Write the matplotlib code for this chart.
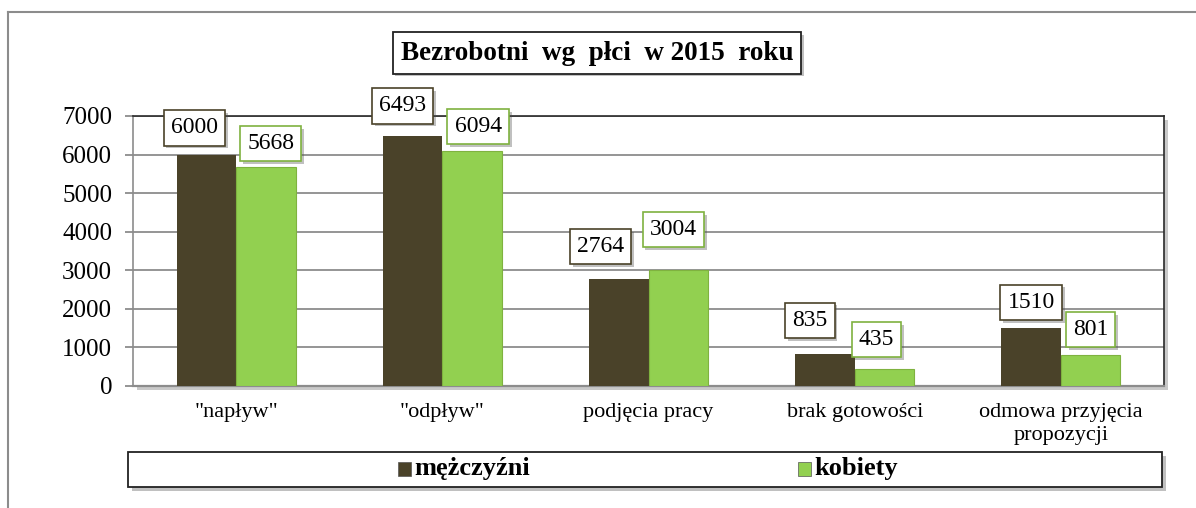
import numpy as np
import matplotlib
matplotlib.use("Agg")
import matplotlib.pyplot as plt
import matplotlib.patheffects as pe
from matplotlib.patches import Rectangle
from matplotlib.lines import Line2D

plt.rcParams['font.family'] = ['Liberation Serif', 'DejaVu Serif']

## Data

categories = ['"napływ"', '"odpływ"', 'podjęcia pracy', 'brak gotowości',
              'odmowa przyjęcia\npropozycji']
men = [6000, 6493, 2764, 835, 1510]
women = [5668, 6094, 3004, 435, 801]
series_names = ['mężczyźni', 'kobiety']
title = 'Bezrobotni  wg  płci  w 2015  roku'

# label box nudges (pixels): horizontal shift, gap above bar
men_nudge = [(-12, 9), (-10, 12), (-18, 15), (-15, 16), (0, 8)]
women_nudge = [(5, 6), (6, 7), (-5, 23), (-8, 12), (0, 8)]

dark = '#4a4229'
green = '#92d050'
shadow = [pe.SimplePatchShadow(offset=(2, -2), alpha=0.35), pe.Normal()]

fig = plt.figure(figsize=(11.96, 5.08), dpi=100)

# outer frame
fig.add_artist(Line2D([8/1196, 8/1196], [0, 1 - 12/508], color='#8c8c8c', lw=1.5, transform=fig.transFigure))
fig.add_artist(Line2D([8/1196, 1], [1 - 12/508, 1 - 12/508], color='#8c8c8c', lw=1.5, transform=fig.transFigure))

ax = fig.add_axes([133/1196, 1 - 386/508, (1164 - 133)/1196, (386 - 116)/508])

x = np.arange(len(categories))
w = 0.289
b1 = ax.bar(x - w/2, men, w, color=dark, zorder=3)
b2 = ax.bar(x + w/2, women, w, color=green, edgecolor='#7fb23f', lw=0.8, zorder=3)

ax.set_ylim(0, 7000)
ax.set_xlim(-0.5, len(categories) - 0.5)
ax.set_yticks(np.arange(0, 7001, 1000))
ax.yaxis.grid(True, color='#8c8c8c', lw=1.3, zorder=0)
ax.set_xticks(x)
ax.set_xticklabels(categories, fontsize=16, linespacing=1.3)
ax.tick_params(axis='y', labelsize=18, length=6, width=1.3, color='#8c8c8c', pad=9)
ax.tick_params(axis='x', length=0, pad=12)
for s in ax.spines.values():
    s.set_color('#2a2a2a')
    s.set_linewidth(1.2)
ax.spines['left'].set_color('#8c8c8c')
ax.spines['bottom'].set_color('#8c8c8c')
ax.spines['bottom'].set_linewidth(1.6)
ax.patch.set_path_effects([pe.SimplePatchShadow(offset=(3, -3), alpha=0.3), pe.Normal()])

pad_px = 0.3 * 17 * 100 / 72

def label(bars, vals, nudges, ec):
    for r, v, (dx, gap) in zip(bars, vals, nudges):
        t = ax.annotate(str(v), (r.get_x() + r.get_width()/2, v), xytext=(dx, gap + pad_px),
                        textcoords='offset pixels', ha='center', va='bottom',
                        fontsize=17, zorder=5, annotation_clip=False,
                        bbox=dict(boxstyle='square,pad=0.3', fc='white', ec=ec, lw=1.2))
        t.get_bbox_patch().set_path_effects(shadow)

label(b1, men, men_nudge, '#4a4229')
label(b2, women, women_nudge, '#7fb23f')

# title box
tt = fig.text(597/1196, 1 - 53/508, title, ha='center', va='center', fontsize=19.5,
              fontweight='bold',
              bbox=dict(boxstyle='square,pad=0.3', fc='white', ec='#222222', lw=1.3))
tt.get_bbox_patch().set_path_effects(shadow)

# legend box
lr = Rectangle((128/1196, 1 - 487/508), (1162 - 128)/1196, 35/508, transform=fig.transFigure,
               fc='white', ec='#222222', lw=1.3)
lr.set_path_effects([pe.SimplePatchShadow(offset=(3, -3), alpha=0.35), pe.Normal()])
fig.add_artist(lr)
leg_y = 1 - 469/508
for xpos, name, c in [(398, series_names[0], dark), (798, series_names[1], green)]:
    fig.add_artist(Rectangle((xpos/1196, leg_y - 7/508), 13/1196, 14/508,
                             transform=fig.transFigure, fc=c, ec='#555555', lw=0.5))
    fig.text((xpos + 16)/1196, leg_y, name, ha='left', va='center', fontsize=19,
             fontweight='bold')

fig.savefig('out.png', dpi=100)
